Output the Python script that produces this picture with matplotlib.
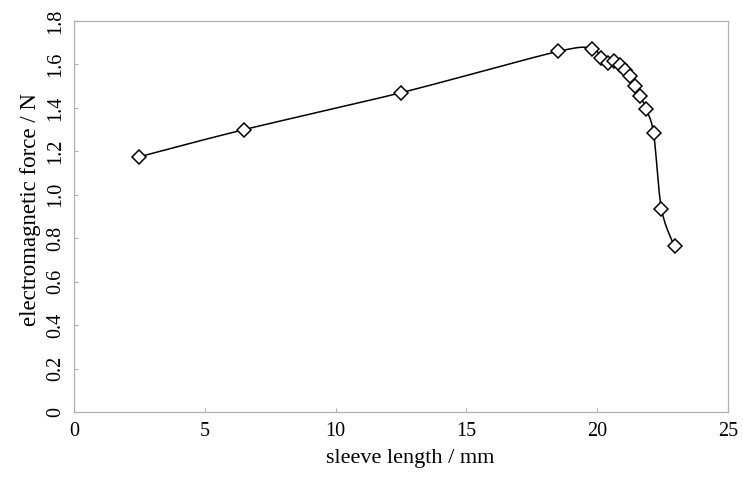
import numpy as np
import matplotlib
matplotlib.use('Agg')
import matplotlib.pyplot as plt

# data
sleeve_length = [2.5, 6.5, 12.5, 18.5, 19.8, 20.15, 20.4, 20.65, 20.85, 21.05,
                 21.25, 21.45, 21.65, 21.85, 22.15, 22.45, 22.95]
em_force = [1.175, 1.30, 1.47, 1.66, 1.67, 1.63, 1.607, 1.614, 1.598, 1.576,
            1.545, 1.50, 1.456, 1.396, 1.284, 0.936, 0.762]

x_ticks = [0, 5, 10, 15, 20, 25]
y_ticks = [0, 0.2, 0.4, 0.6, 0.8, 1.0, 1.2, 1.4, 1.6, 1.8]
y_labels = ['0', '0.2', '0.4', '0.6', '0.8', '1.0', '1.2', '1.4', '1.6', '1.8']


def smooth_curve(xs, ys, n=40):
	# catmull-rom through the points, like a spreadsheet "smoothed line"
	p = np.column_stack([xs, ys]).astype(float)
	p = np.vstack([p[0], p, p[-1]])
	out = []
	t = np.linspace(0, 1, n)[:, None]
	for i in range(1, len(p) - 2):
		p0, p1, p2, p3 = p[i - 1], p[i], p[i + 1], p[i + 2]
		seg = 0.5 * ((2 * p1) + (-p0 + p2) * t + (2 * p0 - 5 * p1 + 4 * p2 - p3) * t**2
					+ (-p0 + 3 * p1 - 3 * p2 + p3) * t**3)
		out.append(seg)
	out = np.vstack(out)
	return out[:, 0], out[:, 1]


plt.rcParams['font.family'] = ['Liberation Serif', 'DejaVu Serif']

fig = plt.figure(figsize=(7.43, 4.83), dpi=100)
ax = fig.add_axes([0.0996, 0.147, 0.8804, 0.8095])

cx, cy = smooth_curve(sleeve_length, em_force)
ax.plot(cx, cy, color='black', lw=1.1)
ax.plot(sleeve_length, em_force, linestyle='none', marker='D', ms=7,
		mfc='white', mec='black', mew=1.1)

ax.set_xlim(0, 25)
ax.set_ylim(0, 1.8)
ax.set_xticks(x_ticks)
ax.set_yticks(y_ticks)
ax.set_yticklabels(y_labels, rotation=90, va='center')
ax.tick_params(direction='in', length=3, color='#b0b0b0', labelsize=14.5)
ax.tick_params(axis='x', pad=7)
ax.tick_params(axis='y', pad=6)
for s in ax.spines.values():
	s.set_color('#b0b0b0')
	s.set_linewidth(0.9)

ax.set_xlabel('sleeve length / mm', fontsize=16, labelpad=6)
ax.set_ylabel('electromagnetic force / N', fontsize=16.5, labelpad=4)
# labels sit a little off-centre in the original
ax.xaxis.label.set_x(0.514)
ax.yaxis.label.set_y(0.517)

plt.savefig('out.png', dpi=100)
